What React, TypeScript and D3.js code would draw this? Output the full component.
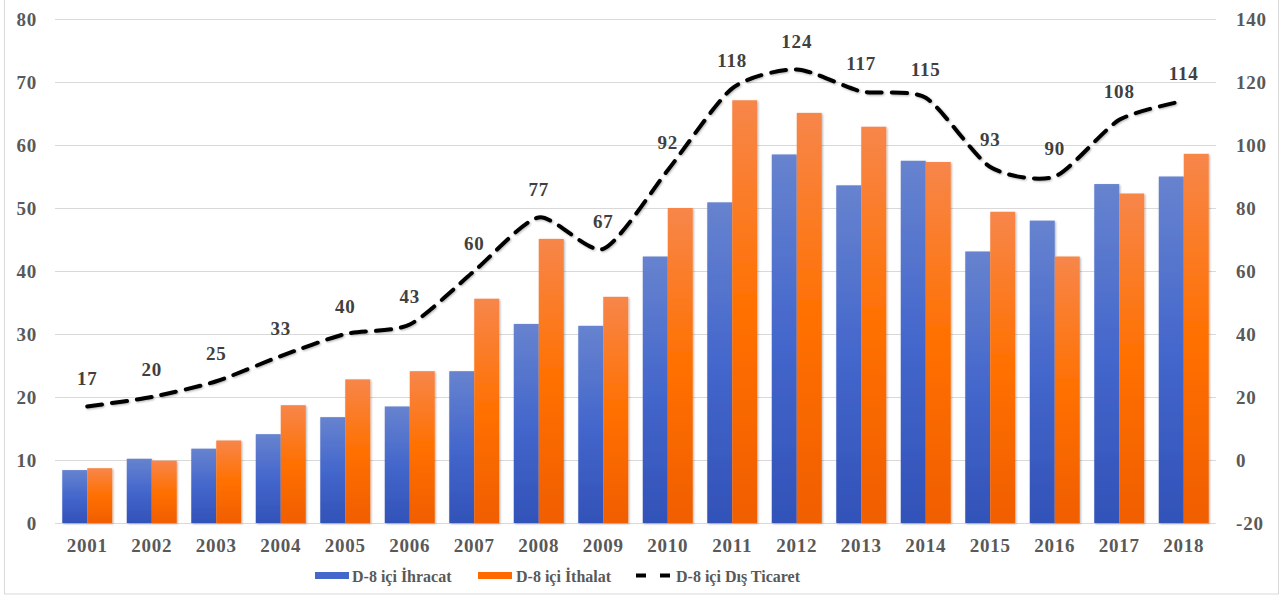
import React, { useEffect, useRef } from "react";
import * as d3 from "d3";

const years = ["2001", "2002", "2003", "2004", "2005", "2006", "2007", "2008", "2009",
  "2010", "2011", "2012", "2013", "2014", "2015", "2016", "2017", "2018"];
const ihracat = [8.4, 10.2, 11.8, 14.1, 16.8, 18.5, 24.1, 31.6, 31.3, 42.3, 50.9, 58.5, 53.6, 57.5, 43.1, 48.0, 53.8, 55.0];
const ithalat = [8.7, 9.9, 13.1, 18.7, 22.8, 24.1, 35.6, 45.1, 35.9, 50.0, 67.1, 65.1, 62.9, 57.3, 49.4, 42.3, 52.3, 58.6];
const disTicaret = [17, 20, 25, 33, 40, 43, 60, 77, 67, 92, 118, 124, 117, 115, 93, 90, 108, 114];
const leftTicks = [0, 10, 20, 30, 40, 50, 60, 70, 80];
const rightTicks = [-20, 0, 20, 40, 60, 80, 100, 120, 140];
const seriesNames = ["D-8 içi İhracat", "D-8 içi İthalat", "D-8 içi Dış Ticaret"];

const W = 1280;
const H = 597;
const font = "'Liberation Serif', 'Times New Roman', serif";
const grey = "#595959";

export default function App() {
  const ref = useRef<SVGSVGElement>(null);

  useEffect(() => {
    const svg = d3.select(ref.current);
    svg.selectAll("*").remove();

    const defs = svg.append("defs");
    const gBlue = defs.append("linearGradient").attr("id", "gBlue").attr("x1", 0).attr("y1", 0).attr("x2", 0).attr("y2", 1);
    gBlue.append("stop").attr("offset", "0%").attr("stop-color", "#6783cf");
    gBlue.append("stop").attr("offset", "50%").attr("stop-color", "#4467cc");
    gBlue.append("stop").attr("offset", "100%").attr("stop-color", "#3252b8");
    const gOrange = defs.append("linearGradient").attr("id", "gOrange").attr("x1", 0).attr("y1", 0).attr("x2", 0).attr("y2", 1);
    gOrange.append("stop").attr("offset", "0%").attr("stop-color", "#f7864a");
    gOrange.append("stop").attr("offset", "50%").attr("stop-color", "#ff7000");
    gOrange.append("stop").attr("offset", "100%").attr("stop-color", "#f05e00");
    const shadow = defs.append("filter").attr("id", "shadow").attr("x", "-20%").attr("y", "-20%").attr("width", "140%").attr("height", "140%");
    shadow.append("feDropShadow").attr("dx", 1).attr("dy", 1).attr("stdDeviation", 1.2).attr("flood-color", "#000").attr("flood-opacity", 0.3);

    // frame
    svg.append("rect").attr("x", 4.5).attr("y", -2).attr("width", W - 6).attr("height", 596)
      .attr("fill", "none").attr("stroke", "#d9d9d9");

    const left = 55, right = 1216, top = 19, bottom = 523;
    const x = d3.scaleBand().domain(years).range([left, right]).paddingInner(0.225).paddingOuter(0.1125);
    const yL = d3.scaleLinear().domain([0, 80]).range([bottom, top]);
    const yR = d3.scaleLinear().domain([-20, 140]).range([bottom, top]);

    // gridlines
    svg.append("g").selectAll("line").data(leftTicks).join("line")
      .attr("x1", left).attr("x2", right)
      .attr("y1", (d) => yL(d) + 0.5).attr("y2", (d) => yL(d) + 0.5)
      .attr("stroke", "#d9d9d9").attr("stroke-width", 1);

    const axisText = (g: any) => g.attr("font-family", font).attr("font-weight", "bold")
      .attr("font-size", 19).attr("letter-spacing", 0.8).attr("fill", grey);

    // left axis labels
    svg.append("g").call(axisText).selectAll("text").data(leftTicks).join("text")
      .attr("x", 37).attr("y", (d) => yL(d)).attr("dy", "0.35em")
      .attr("text-anchor", "end").text((d) => d);

    // right axis labels
    svg.append("g").call(axisText).selectAll("text").data(rightTicks).join("text")
      .attr("x", 1236).attr("y", (d) => yR(d)).attr("dy", "0.35em")
      .attr("text-anchor", "start").text((d) => d);

    // year labels
    svg.append("g").call(axisText).selectAll("text").data(years).join("text")
      .attr("x", (d) => x(d)! + x.bandwidth() / 2).attr("y", 545).attr("dy", "0.35em")
      .attr("text-anchor", "middle").text((d) => d);

    const bw = x.bandwidth() / 2;
    const bars = svg.append("g").attr("filter", "url(#shadow)");
    bars.selectAll("rect.b").data(ihracat).join("rect").attr("class", "b")
      .attr("x", (d, i) => x(years[i])!).attr("width", bw)
      .attr("y", (d) => yL(d)).attr("height", (d) => yL(0) - yL(d))
      .attr("fill", "url(#gBlue)");
    bars.selectAll("rect.o").data(ithalat).join("rect").attr("class", "o")
      .attr("x", (d, i) => x(years[i])! + bw).attr("width", bw)
      .attr("y", (d) => yL(d)).attr("height", (d) => yL(0) - yL(d))
      .attr("fill", "url(#gOrange)");

    // line
    const line = d3.line<number>()
      .x((d, i) => x(years[i])! + x.bandwidth() / 2)
      .y((d) => yR(d))
      .curve(d3.curveCardinal.tension(0.3));
    svg.append("path").datum(disTicaret).attr("d", line)
      .attr("fill", "none").attr("stroke", "#000").attr("stroke-width", 4)
      .attr("stroke-dasharray", "15 10").attr("stroke-linecap", "round")
      .attr("filter", "url(#shadow)");

    // line labels
    svg.append("g").call(axisText).attr("fill", "#404040").selectAll("text").data(disTicaret).join("text")
      .attr("x", (d, i) => x(years[i])! + x.bandwidth() / 2)
      .attr("y", (d) => yR(d) - 28).attr("dy", "0.35em")
      .attr("text-anchor", "middle").text((d) => d);

    // legend
    const lg = svg.append("g").attr("font-family", font).attr("font-weight", "bold")
      .attr("font-size", 16).attr("fill", grey);
    lg.append("rect").attr("x", 315).attr("y", 572).attr("width", 34).attr("height", 7).attr("fill", "#4467cc");
    lg.append("text").attr("x", 352).attr("y", 576).attr("dy", "0.35em").text(seriesNames[0]);
    lg.append("rect").attr("x", 478).attr("y", 572).attr("width", 34).attr("height", 7).attr("fill", "#ff6a00");
    lg.append("text").attr("x", 516).attr("y", 576).attr("dy", "0.35em").text(seriesNames[1]);
    lg.append("line").attr("x1", 636).attr("x2", 674).attr("y1", 575.5).attr("y2", 575.5)
      .attr("stroke", "#000").attr("stroke-width", 4).attr("stroke-dasharray", "10 14");
    lg.append("text").attr("x", 676).attr("y", 576).attr("dy", "0.35em").text(seriesNames[2]);
  }, []);

  return (
    <svg ref={ref} width={W} height={H}
      style={{ position: "absolute", left: 0, top: 0, background: "#fff" }} />
  );
}
